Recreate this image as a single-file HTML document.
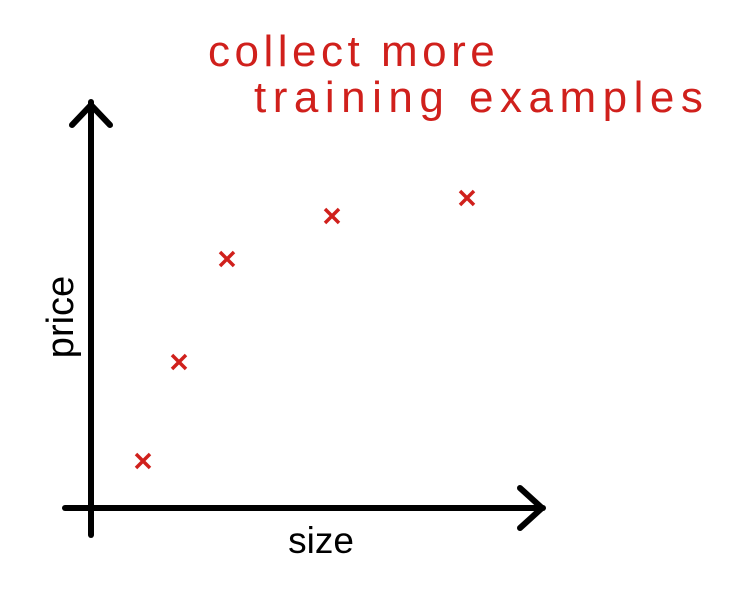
<!DOCTYPE html>
<html><head><meta charset="utf-8"><style>
html,body{margin:0;padding:0;background:#fff;}
svg{display:block;}
</style></head><body>
<svg id="chart" width="739" height="591" viewBox="0 0 739 591">
  <text x="208" y="66" font-family="Liberation Sans, sans-serif" font-size="44" fill="#d0201c" letter-spacing="4.5">collect more</text>
  <text x="254" y="112" font-family="Liberation Sans, sans-serif" font-size="44" fill="#d0201c" letter-spacing="6.5">training examples</text>
  <g stroke="#000" stroke-width="6" fill="none" stroke-linecap="round" stroke-linejoin="round">
    <line x1="91" y1="102" x2="91" y2="535"/>
    <polyline points="72,125 91,105 110,125"/>
    <line x1="65" y1="508" x2="543" y2="508"/>
    <polyline points="520,488 542,508 520,528"/>
  </g>
  <text transform="translate(73,317) rotate(-90)" text-anchor="middle" font-family="Liberation Sans, sans-serif" font-size="38" fill="#000">price</text>
  <text x="321" y="553" text-anchor="middle" font-family="Liberation Sans, sans-serif" font-size="37" fill="#000">size</text>
  <g id="points"></g>
</svg>
<script>
const sizes = [52, 88, 136, 241, 376];
const prices = [47, 146, 249, 292, 310];
function xScale(v){ return 91 + v * (450 / 450); }
function yScale(v){ return 508 - v * (400 / 400); }
const g = document.getElementById('points');
const ns = 'http://www.w3.org/2000/svg';
for (let i = 0; i < sizes.length; i++) {
  const cx = xScale(sizes[i]), cy = yScale(prices[i]), r = 7;
  const p = document.createElementNS(ns, 'path');
  p.setAttribute('d', `M${cx-r},${cy-r}L${cx+r},${cy+r}M${cx+r},${cy-r}L${cx-r},${cy+r}`);
  p.setAttribute('stroke', '#d0201c');
  p.setAttribute('stroke-width', '3.5');
  p.setAttribute('fill', 'none');
  
  
  g.appendChild(p);
}
</script>
</body></html>
